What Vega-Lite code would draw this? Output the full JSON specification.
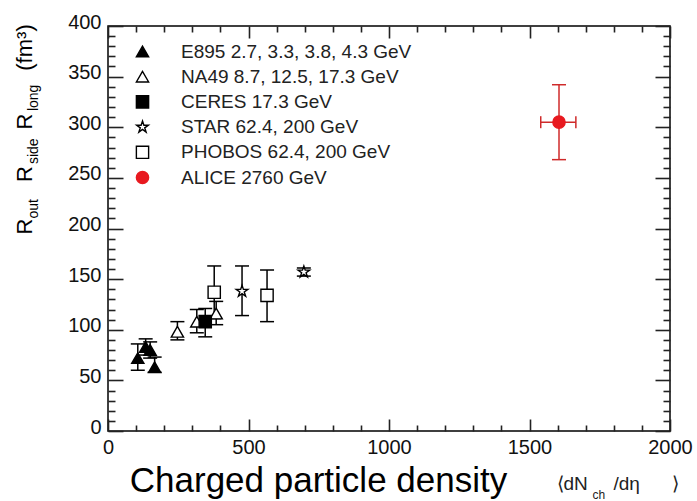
{
  "$schema": "https://vega.github.io/schema/vega-lite/v6.json",
  "width": 562,
  "height": 405,
  "autosize": {"type": "none"},
  "padding": {"left": 108, "top": 26, "right": 27, "bottom": 70},
  "background": "white",
  "config": {"font": "Liberation Sans", "view": {"stroke": "black", "strokeWidth": 1.5}},
  "data": {"values": [
    {"series": "E895 2.7, 3.3, 3.8, 4.3 GeV", "x": 106, "y": 72, "ylo": 60, "yhi": 86},
    {"series": "E895 2.7, 3.3, 3.8, 4.3 GeV", "x": 134, "y": 83, "ylo": 75, "yhi": 91},
    {"series": "E895 2.7, 3.3, 3.8, 4.3 GeV", "x": 150, "y": 80, "ylo": 72, "yhi": 88},
    {"series": "E895 2.7, 3.3, 3.8, 4.3 GeV", "x": 166, "y": 63, "ylo": 58, "yhi": 73},
    {"series": "NA49 8.7, 12.5, 17.3 GeV", "x": 247, "y": 98, "ylo": 90, "yhi": 108},
    {"series": "NA49 8.7, 12.5, 17.3 GeV", "x": 316, "y": 108, "ylo": 97, "yhi": 120},
    {"series": "NA49 8.7, 12.5, 17.3 GeV", "x": 385, "y": 116, "ylo": 105, "yhi": 128},
    {"series": "CERES 17.3 GeV", "x": 346, "y": 108, "ylo": 93, "yhi": 121},
    {"series": "STAR 62.4, 200 GeV", "x": 477, "y": 138, "ylo": 114, "yhi": 163},
    {"series": "STAR 62.4, 200 GeV", "x": 697, "y": 157, "ylo": 153, "yhi": 161},
    {"series": "PHOBOS 62.4, 200 GeV", "x": 378, "y": 137, "ylo": 111, "yhi": 163},
    {"series": "PHOBOS 62.4, 200 GeV", "x": 566, "y": 134, "ylo": 108, "yhi": 159},
    {"series": "ALICE 2760 GeV", "x": 1605, "y": 305, "ylo": 268, "yhi": 342, "xlo": 1540, "xhi": 1665}
  ]},
  "resolve": {"scale": {"x": "shared", "y": "shared"}, "axis": {"x": "independent", "y": "independent"}},
  "layer": [
    {
      "mark": {"type": "rule", "strokeWidth": 1.5},
      "encoding": {
        "x": {"field": "x", "type": "quantitative", "scale": {"domain": [0, 2000], "nice": false, "zero": false},
          "axis": {"orient": "bottom", "values": [0, 500, 1000, 1500, 2000], "format": "d",
            "ticks": false, "domain": false, "grid": false,
            "labelFontSize": 20, "labelColor": "#111", "labelPadding": 6, "labelFlush": false, "labelOverlap": false, "labelBound": false,
            "title": "Charged particle density", "titleFontSize": 35, "titleFontWeight": "normal", "titleColor": "black",
            "titleX": 210, "titleY": 60, "titleAlign": "center", "titleBaseline": "alphabetic", "titleAngle": 0}},
        "y": {"field": "ylo", "type": "quantitative", "scale": {"domain": [0, 400], "nice": false, "zero": false},
          "axis": {"orient": "left", "values": [0, 50, 100, 150, 200, 250, 300, 350, 400], "format": "d",
            "ticks": false, "domain": false, "grid": false,
            "labelFontSize": 20, "labelColor": "#111", "labelPadding": 7, "labelOffset": -4, "labelFlush": false, "labelOverlap": false, "labelBound": false,
            "title": "R\u00a0\u00a0\u00a0\u00a0\u00a0\u00a0R\u00a0\u00a0\u00a0\u00a0\u00a0\u00a0R\u00a0\u00a0\u00a0\u00a0\u00a0\u00a0\u00a0(fm³)", "titleFontSize": 22, "titleFontWeight": "normal", "titleColor": "black",
            "titleX": -77, "titleY": 208, "titleAlign": "left", "titleBaseline": "alphabetic", "titleAngle": 270}},
        "y2": {"field": "yhi"},
        "color": {"condition": {"test": "datum.series === 'ALICE 2760 GeV'", "value": "#cf2a2a"}, "value": "black"}
      }
    },
    {
      "mark": {"type": "tick", "orient": "horizontal", "size": 14, "thickness": 1.5, "opacity": 1},
      "encoding": {
        "x": {"field": "x", "type": "quantitative", "scale": {"domain": [0, 2000], "nice": false, "zero": false},
          "axis": {"orient": "bottom", "values": [0, 500, 1000, 1500, 2000], "labels": false, "domain": false, "grid": false, "zindex": 3,
            "ticks": true, "tickSize": 12, "tickColor": "#222222", "tickWidth": 1.6, "tickOpacity": 1, "offset": -12,
            "title": "⟨dN", "titleFontSize": 19, "titleFontWeight": "normal", "titleColor": "#222",
            "titleX": 448, "titleY": 70, "titleAlign": "left", "titleBaseline": "alphabetic", "titleAngle": 0}},
        "y": {"field": "ylo", "type": "quantitative", "scale": {"domain": [0, 400], "nice": false, "zero": false},
          "axis": {"orient": "left", "values": [0, 50, 100, 150, 200, 250, 300, 350, 400], "labels": false, "domain": false, "grid": false, "zindex": 3,
            "ticks": true, "tickSize": 15, "tickColor": "#222222", "tickWidth": 1.6, "tickOpacity": 1, "offset": -15,
            "title": "out\u00a0\u00a0\u00a0\u00a0\u00a0\u00a0\u00a0\u00a0\u00a0side\u00a0\u00a0\u00a0\u00a0\u00a0\u00a0\u00a0long", "titleFontSize": 14, "titleFontWeight": "normal", "titleColor": "black",
            "titleX": -86, "titleY": 192, "titleAlign": "left", "titleBaseline": "alphabetic", "titleAngle": 270}},
        "color": {"condition": {"test": "datum.series === 'ALICE 2760 GeV'", "value": "#cf2a2a"}, "value": "black"}
      }
    },
    {
      "mark": {"type": "tick", "orient": "horizontal", "size": 14, "thickness": 1.5, "opacity": 1},
      "encoding": {
        "x": {"field": "x", "type": "quantitative", "scale": {"domain": [0, 2000], "nice": false, "zero": false},
          "axis": {"orient": "bottom", "values": [100,200,300,400,600,700,800,900,1100,1200,1300,1400,1600,1700,1800,1900], "labels": false, "domain": false, "grid": false, "zindex": 3,
            "ticks": true, "tickSize": 6, "tickColor": "#222222", "tickWidth": 1.6, "tickOpacity": 1, "offset": -6,
            "title": "ch", "titleFontSize": 12, "titleFontWeight": "normal", "titleColor": "#222",
            "titleX": 484, "titleY": 73, "titleAlign": "left", "titleBaseline": "alphabetic", "titleAngle": 0}},
        "y": {"field": "yhi", "type": "quantitative", "scale": {"domain": [0, 400], "nice": false, "zero": false},
          "axis": {"orient": "left", "values": [10,20,30,40,60,70,80,90,110,120,130,140,160,170,180,190,210,220,230,240,260,270,280,290,310,320,330,340,360,370,380,390], "labels": false, "domain": false, "grid": false, "zindex": 3,
            "ticks": true, "tickSize": 7, "tickColor": "#222222", "tickWidth": 1.6, "tickOpacity": 1, "offset": -7, "title": null}},
        "color": {"condition": {"test": "datum.series === 'ALICE 2760 GeV'", "value": "#cf2a2a"}, "value": "black"}
      }
    },
    {
      "transform": [{"filter": "datum.xlo != null"}],
      "mark": {"type": "rule", "strokeWidth": 1.5, "color": "#cf2a2a"},
      "encoding": {
        "x": {"field": "xlo", "type": "quantitative",
          "axis": {"orient": "top", "values": [0, 500, 1000, 1500, 2000], "labels": false, "domain": false, "grid": false, "zindex": 3,
            "ticks": true, "tickSize": 12, "tickColor": "#222222", "tickWidth": 1.6, "tickOpacity": 1, "offset": -12, "title": null}},
        "x2": {"field": "xhi"},
        "y": {"field": "y", "type": "quantitative",
          "axis": {"orient": "right", "values": [0, 50, 100, 150, 200, 250, 300, 350, 400], "labels": false, "domain": false, "grid": false, "zindex": 3,
            "ticks": true, "tickSize": 15, "tickColor": "#222222", "tickWidth": 1.6, "tickOpacity": 1, "offset": -15, "title": null}}
      }
    },
    {
      "transform": [{"filter": "datum.xlo != null"}],
      "mark": {"type": "tick", "orient": "vertical", "size": 12, "thickness": 1.5, "opacity": 1, "color": "#cf2a2a"},
      "encoding": {
        "x": {"field": "xlo", "type": "quantitative",
          "axis": {"orient": "top", "values": [100,200,300,400,600,700,800,900,1100,1200,1300,1400,1600,1700,1800,1900], "labels": false, "domain": false, "grid": false, "zindex": 3,
            "ticks": true, "tickSize": 6, "tickColor": "#222222", "tickWidth": 1.6, "tickOpacity": 1, "offset": -6, "title": null}},
        "y": {"field": "y", "type": "quantitative",
          "axis": {"orient": "right", "values": [10,20,30,40,60,70,80,90,110,120,130,140,160,170,180,190,210,220,230,240,260,270,280,290,310,320,330,340,360,370,380,390], "labels": false, "domain": false, "grid": false, "zindex": 3,
            "ticks": true, "tickSize": 7, "tickColor": "#222222", "tickWidth": 1.6, "tickOpacity": 1, "offset": -7, "title": null}}
      }
    },
    {
      "transform": [{"filter": "datum.xlo != null"}],
      "mark": {"type": "tick", "orient": "vertical", "size": 12, "thickness": 1.5, "opacity": 1, "color": "#cf2a2a"},
      "encoding": {
        "x": {"field": "xhi", "type": "quantitative",
          "axis": {"orient": "bottom", "labels": false, "ticks": false, "domain": false, "grid": false,
            "title": "/dη\u00a0\u00a0\u00a0\u00a0\u00a0\u00a0⟩", "titleFontSize": 19, "titleFontWeight": "normal", "titleColor": "#222",
            "titleX": 505, "titleY": 58, "titleAlign": "left", "titleBaseline": "alphabetic", "titleAngle": 0}},
        "y": {"field": "y", "type": "quantitative", "axis": null}
      }
    },
    {
      "mark": {"type": "point", "size": 150, "opacity": 1, "strokeWidth": 1.4},
      "encoding": {
        "x": {"field": "x", "type": "quantitative", "axis": null},
        "y": {"field": "y", "type": "quantitative", "axis": null},
        "shape": {"field": "series", "type": "nominal",
          "scale": {"domain": ["E895 2.7, 3.3, 3.8, 4.3 GeV", "NA49 8.7, 12.5, 17.3 GeV", "CERES 17.3 GeV", "STAR 62.4, 200 GeV", "PHOBOS 62.4, 200 GeV", "ALICE 2760 GeV"],
            "range": ["triangle-up", "triangle-up", "square", "M0,-1L0.2245,-0.309L0.9511,-0.309L0.3633,0.118L0.5878,0.809L0,0.382L-0.5878,0.809L-0.3633,0.118L-0.9511,-0.309L-0.2245,-0.309Z", "square", "circle"]},
          "legend": {"title": null, "orient": "none", "legendX": 25, "legendY": 16, "padding": 0, "offset": 0, "rowPadding": 5.2, "labelOffset": 29, "labelFontSize": 19, "labelFont": "Liberation Sans", "labelColor": "#222", "labelLimit": 400, "symbolSize": 150, "symbolStrokeWidth": 1.4}},
        "fill": {"field": "series", "type": "nominal",
          "scale": {"domain": ["E895 2.7, 3.3, 3.8, 4.3 GeV", "NA49 8.7, 12.5, 17.3 GeV", "CERES 17.3 GeV", "STAR 62.4, 200 GeV", "PHOBOS 62.4, 200 GeV", "ALICE 2760 GeV"],
            "range": ["black", "white", "black", "white", "white", "#e8191f"]},
          "legend": {"title": null, "orient": "none", "legendX": 25, "legendY": 16, "padding": 0, "offset": 0, "rowPadding": 5.2, "labelOffset": 29, "labelFontSize": 19, "labelFont": "Liberation Sans", "labelColor": "#222", "labelLimit": 400, "symbolSize": 150, "symbolStrokeWidth": 1.4}},
        "stroke": {"field": "series", "type": "nominal",
          "scale": {"domain": ["E895 2.7, 3.3, 3.8, 4.3 GeV", "NA49 8.7, 12.5, 17.3 GeV", "CERES 17.3 GeV", "STAR 62.4, 200 GeV", "PHOBOS 62.4, 200 GeV", "ALICE 2760 GeV"],
            "range": ["black", "black", "black", "black", "black", "#e8191f"]},
          "legend": {"title": null, "orient": "none", "legendX": 25, "legendY": 16, "padding": 0, "offset": 0, "rowPadding": 5.2, "labelOffset": 29, "labelFontSize": 19, "labelFont": "Liberation Sans", "labelColor": "#222", "labelLimit": 400, "symbolSize": 150, "symbolStrokeWidth": 1.4}}
      }
    }
  ]
}
